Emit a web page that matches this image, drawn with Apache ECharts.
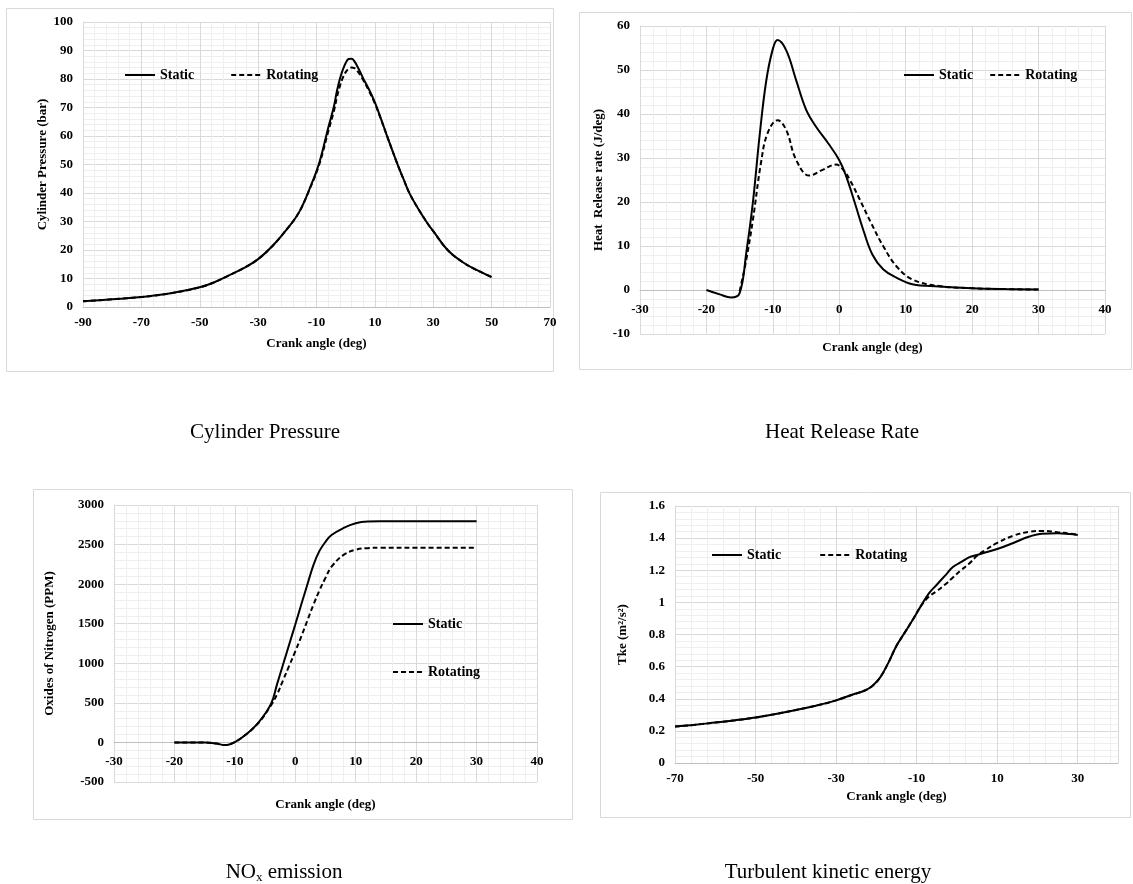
<!DOCTYPE html>
<html lang="en">
<head>
    <meta charset="UTF-8">
    <title>Engine simulation charts</title>
    <script src="https://cdn.jsdelivr.net/npm/echarts@6/dist/echarts.min.js"></script>
    <style>
        html, body { margin: 0; padding: 0; background: #fff; }
    </style>
</head>
<body>
    <div id="main" style="width:1133px;height:884px;"></div>

    <script>
// ---- data ----
// cylinder pressure (bar) vs crank angle
var pressureAngle    = [-90,-80,-70,-60,-50,-45,-40,-35,-30,-25,-20,-16,-12,-9,-6,-4,-3,-2,-1,0,1,2,3,4,5,6,8,10,12,14,16,18,20,22,25,28,30,35,40,45,50];
var pressureStatic   = [2.0,2.7,3.5,4.8,6.9,8.7,11.1,13.6,16.8,21.5,27.5,33.2,42.4,50.8,62.8,70.5,75.8,80,83.2,85.6,87,87.1,86.2,84.4,82.4,80.2,76.3,71.8,66.3,60.5,54.9,49.4,44.4,39.6,34.2,29.4,26.6,19.9,15.8,12.9,10.5];
var pressureRotating = [2.0,2.7,3.5,4.8,6.9,8.7,11.1,13.6,16.8,21.5,27.5,33.2,42.2,50.2,61.5,68.9,73.6,77.5,80.4,82.4,83.6,84,83.8,82.8,81.4,79.6,75.8,71.4,66.1,60.5,54.9,49.4,44.4,39.6,34.2,29.4,26.6,19.9,15.8,12.9,10.5];

// heat release rate (J/deg)
var hrrStaticAngle   = [-20,-18,-16.3,-15,-14,-13,-12,-11,-10,-9.3,-8,-6.5,-5,-3.5,-1.7,0,1,2.3,3.6,5,6.6,8.6,11,15,20,25,30];
var hrrStatic        = [0,-1.0,-1.7,-0.7,8.5,20,35,47.5,54.8,56.8,54.5,47.7,41,37.1,33.4,29.5,26,20,13.7,8,4.7,2.8,1.3,0.8,0.4,0.2,0.1];
var hrrRotatingAngle = [-15,-14,-13,-11.8,-10.8,-9.3,-8,-6.5,-4.5,-2.5,-0.5,0.6,1.6,3.1,4.8,6.6,8.6,11,15,20,25,30];
var hrrRotating      = [-0.3,6.9,16,28.8,35.6,38.6,36.4,29.6,26,27.3,28.5,27.3,25,20.5,15.2,10,5.4,2.4,0.9,0.4,0.2,0.1];

// oxides of nitrogen (PPM)
var noxAngle    = [-20,-15,-13,-11.7,-10,-8,-6,-4,-3,-2,-1,0,1,2,3,4,5,6,8,10,12,14,20,30];
var noxStatic   = [0,0,-15,-34,5,110,260,490,740,990,1240,1490,1745,1995,2240,2420,2535,2620,2710,2770,2792,2795,2795,2795];
var noxRotating = [0,0,-15,-34,5,110,255,470,610,790,970,1150,1340,1540,1740,1920,2080,2220,2370,2435,2455,2460,2460,2460];

// turbulent kinetic energy (m2/s2)
var tkeAngle    = [-70,-65,-60,-55,-50,-45,-40,-35,-30,-26,-23,-21,-19,-17,-15,-13,-11,-9,-7,-5,-3,-1,1,3,5,7,10,14,18,21,25,28,30];
var tkeStatic   = [0.227,0.238,0.252,0.266,0.283,0.305,0.33,0.357,0.39,0.425,0.45,0.48,0.535,0.625,0.73,0.81,0.89,0.975,1.055,1.11,1.165,1.22,1.25,1.28,1.295,1.31,1.332,1.37,1.41,1.428,1.43,1.425,1.42];
var tkeRotating = [0.227,0.238,0.252,0.266,0.283,0.305,0.33,0.357,0.39,0.425,0.45,0.48,0.535,0.625,0.73,0.81,0.89,0.975,1.035,1.07,1.11,1.155,1.2,1.24,1.29,1.325,1.37,1.415,1.44,1.445,1.437,1.428,1.42];

// axis ranges: [min, max, interval]
var pressureX = [-90, 70, 20], pressureY = [0, 100, 10];
var hrrX      = [-30, 40, 10], hrrY      = [-10, 60, 10];
var noxX      = [-30, 40, 10], noxY      = [-500, 3000, 500];
var tkeX      = [-70, 40, 20], tkeY      = [0, 1.6, 0.2];

var seriesNames = ['Static', 'Rotating'];
var captions = ['Cylinder Pressure', 'Heat Release Rate', '{n|NO}{s|x}{n| emission}', 'Turbulent kinetic energy'];

window.onload = function () {
    drawCharts();
};

function pairs(xs, ys) {
    var out = [];
    for (var i = 0; i < xs.length; i++) out.push([xs[i], ys[i]]);
    return out;
}

function drawCharts() {
    var myChart = echarts.init(document.getElementById('main'));
    var font = 'Liberation Serif';

    var labelStyle = { fontFamily: font, fontWeight: 'bold', fontSize: 13, color: '#000' };

    // grid boxes in px, x axis sits on the y=0 line (offset moves it up there)
    var grids = [
        { left: 83,  top: 22,  width: 467, height: 285 },
        { left: 640, top: 26,  width: 465, height: 308 },
        { left: 114, top: 505, width: 423, height: 277 },
        { left: 675, top: 506, width: 443, height: 257 }
    ];
    var yRanges = [pressureY, hrrY, noxY, tkeY];
    function zeroOffset(idx) {
        var r = yRanges[idx];
        return -grids[idx].height * (0 - r[0]) / (r[1] - r[0]);
    }

    function xAxis(idx, r, name, gap, margin) {
        return {
            type: 'value', gridIndex: idx,
            min: r[0], max: r[1], interval: r[2],
            offset: zeroOffset(idx),
            name: name, nameLocation: 'middle', nameGap: gap,
            nameTextStyle: labelStyle,
            axisLine: { show: true, onZero: false, lineStyle: { color: '#bfbfbf', width: 1 } },
            axisTick: { show: false },
            axisLabel: Object.assign({ margin: margin, showMaxLabel: idx !== 3 }, labelStyle),
            splitLine: { show: true, lineStyle: { color: '#d9d9d9', width: 1 } },
            minorTick: { show: true, splitNumber: 5, length: 0 },
            minorSplitLine: { show: true, lineStyle: { color: '#efefef', width: 1 } }
        };
    }
    function yAxis(idx, r, name, gap) {
        return {
            type: 'value', gridIndex: idx,
            min: r[0], max: r[1], interval: r[2],
            name: name, nameLocation: 'middle', nameGap: gap, nameRotate: 90,
            nameTextStyle: labelStyle,
            axisLine: { show: true, onZero: false, lineStyle: { color: '#d9d9d9', width: 1 } },
            axisTick: { show: false },
            axisLabel: Object.assign({ margin: 10, formatter: function (v) { return String(+v.toFixed(2)); } }, labelStyle),
            splitLine: { show: true, lineStyle: { color: '#d9d9d9', width: 1 } },
            minorTick: { show: true, splitNumber: 5, length: 0 },
            minorSplitLine: { show: true, lineStyle: { color: '#efefef', width: 1 } }
        };
    }
    function line(idx, nameIdx, data) {
        return {
            type: 'line', name: seriesNames[nameIdx],
            xAxisIndex: idx, yAxisIndex: idx,
            data: data, smooth: 0.4,
            symbol: 'none', silent: true,
            lineStyle: { color: '#000', width: 2, type: nameIdx === 0 ? 'solid' : [5, 3] },
            itemStyle: { color: '#000' },
            z: nameIdx === 0 ? 3 : 4
        };
    }
    function legend(left, top, gap, orient) {
        return {
            left: left, top: top, orient: orient || 'horizontal', padding: 0,
            itemWidth: 30, itemHeight: 14, itemGap: gap,
            data: seriesNames, selectedMode: false,
            itemStyle: { opacity: 0 },
            textStyle: { fontFamily: font, fontWeight: 'bold', fontSize: 14, color: '#000' }
        };
    }
    function frame(x, y, w, h) {
        return { type: 'rect', z: -1, shape: { x: x, y: y, width: w, height: h },
                 style: { fill: 'none', stroke: '#d9d9d9', lineWidth: 1 } };
    }
    function caption(text, x, y) {
        return { type: 'text', x: x, y: y,
                 style: { text: text, align: 'center', verticalAlign: 'middle',
                          font: '21px "Liberation Serif"', fill: '#000',
                          rich: { n: { fontFamily: font, fontSize: 21, fill: '#000' },
                                  s: { fontFamily: font, fontSize: 13, fill: '#000', padding: [12, 0, 0, 0] } } } };
    }

    myChart.setOption({
        animation: false,
        grid: grids,
        xAxis: [
            xAxis(0, pressureX, 'Crank angle (deg)', 30, 9),
            xAxis(1, hrrX, 'Crank angle (deg)', 51, 13),
            xAxis(2, noxX, 'Crank angle (deg)', 56, 13),
            xAxis(3, tkeX, 'Crank angle (deg)', 27, 9)
        ],
        yAxis: [
            yAxis(0, pressureY, 'Cylinder Pressure (bar)', 34),
            yAxis(1, hrrY, 'Heat  Release rate (J/deg)', 35),
            yAxis(2, noxY, 'Oxides of Nitrogen (PPM)', 58),
            yAxis(3, tkeY, 'Tke (m\u00b2/s\u00b2)', 46)
        ],
        legend: [
            legend(124, 68, 36),
            legend(903, 68, 16),
            legend(392, 617, 34, 'vertical'),
            legend(711, 548, 38)
        ],
        graphic: [
            frame(6.5, 8.5, 547, 363),
            frame(579.5, 12.5, 552, 357),
            frame(33.5, 489.5, 539, 330),
            frame(600.5, 492.5, 530, 325),
            caption(captions[0], 265, 432),
            caption(captions[1], 842, 432),
            caption(captions[2], 284, 872),
            caption(captions[3], 828, 872)
        ],
        series: [
            line(0, 0, pairs(pressureAngle, pressureStatic)),
            line(0, 1, pairs(pressureAngle, pressureRotating)),
            line(1, 0, pairs(hrrStaticAngle, hrrStatic)),
            line(1, 1, pairs(hrrRotatingAngle, hrrRotating)),
            line(2, 0, pairs(noxAngle, noxStatic)),
            line(2, 1, pairs(noxAngle, noxRotating)),
            line(3, 0, pairs(tkeAngle, tkeStatic)),
            line(3, 1, pairs(tkeAngle, tkeRotating))
        ]
    });
}
    </script>
</body>
</html>
